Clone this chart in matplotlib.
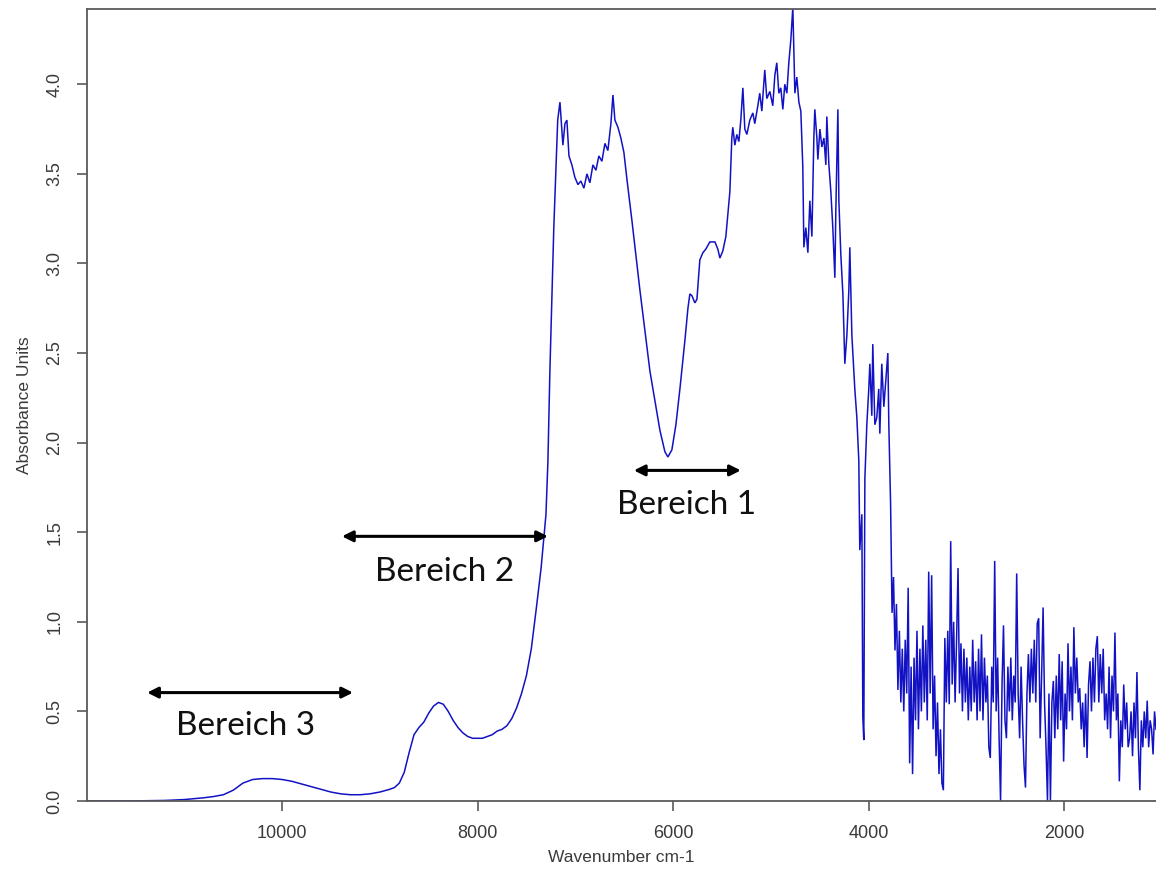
import numpy as np
import matplotlib
matplotlib.use("Agg")
import matplotlib.pyplot as plt

# --- smooth NIR part of the spectrum (wavenumber in cm-1, absorbance) ---
wn_smooth = [12000, 11600, 11200, 11000, 10800, 10700, 10600, 10500, 10400, 10300,
             10200, 10100, 10000, 9900, 9800, 9700, 9600, 9500, 9400, 9300,
             9200, 9100, 9000, 8900, 8850, 8800, 8750, 8700, 8650, 8600,
             8550, 8500, 8450, 8400, 8350, 8300, 8250, 8200, 8150, 8100,
             8050, 8000, 7950, 7900, 7850, 7800, 7750, 7700, 7650, 7600,
             7550, 7500, 7450, 7400, 7350, 7300, 7280, 7260, 7240, 7220,
             7200, 7180]
abs_smooth = [0.0, 0.0, 0.003, 0.008, 0.018, 0.025, 0.035, 0.06, 0.10, 0.12,
              0.125, 0.125, 0.12, 0.11, 0.095, 0.08, 0.065, 0.05, 0.04, 0.035,
              0.035, 0.04, 0.05, 0.065, 0.075, 0.10, 0.16, 0.27, 0.37, 0.41,
              0.44, 0.49, 0.53, 0.55, 0.54, 0.50, 0.45, 0.41, 0.38, 0.36,
              0.35, 0.35, 0.35, 0.36, 0.37, 0.39, 0.40, 0.42, 0.46, 0.52,
              0.60, 0.70, 0.85, 1.07, 1.30, 1.60, 1.90, 2.40, 2.80, 3.20,
              3.50, 3.80]

# --- saturated band region with moderate noise ---
wn_band = [7157, 7127, 7106, 7086, 7065, 7035, 7004, 6973, 6943, 6912,
           6881, 6851, 6820, 6789, 6759, 6728, 6697, 6667, 6636, 6615,
           6595, 6564, 6534, 6503, 6472, 6421, 6339, 6237, 6135, 6084,
           6053, 6012, 5971, 5930, 5879, 5848, 5828, 5807, 5777, 5756,
           5726, 5695, 5665, 5624, 5572, 5542, 5521, 5491, 5460, 5419,
           5399, 5389, 5368, 5348, 5327, 5307, 5286, 5266, 5245, 5215,
           5184, 5164, 5133, 5113, 5092, 5062, 5041, 5010, 4980, 4959,
           4939, 4918, 4898, 4877, 4857, 4836, 4816, 4795, 4775, 4754,
           4734, 4713, 4693, 4673, 4662, 4642, 4621, 4601, 4580, 4560,
           4550, 4529, 4519, 4498, 4478, 4457, 4437, 4427, 4406, 4386,
           4366, 4345, 4335, 4314, 4304, 4284, 4263, 4243, 4222, 4202,
           4192, 4171, 4141, 4120, 4100, 4090, 4069, 4059, 4049, 4038,
           4018, 3998, 3987, 3967, 3957, 3936, 3916, 3896, 3885, 3865,
           3844, 3824, 3803, 3793]
abs_band = [3.90, 3.66, 3.78, 3.80, 3.60, 3.55, 3.48, 3.44, 3.46, 3.42,
            3.50, 3.45, 3.55, 3.52, 3.60, 3.57, 3.67, 3.63, 3.78, 3.94,
            3.80, 3.76, 3.70, 3.62, 3.47, 3.24, 2.85, 2.40, 2.07, 1.95,
            1.92, 1.96, 2.10, 2.30, 2.57, 2.75, 2.83, 2.82, 2.78, 2.80,
            3.02, 3.06, 3.08, 3.12, 3.12, 3.08, 3.03, 3.07, 3.15, 3.40,
            3.70, 3.76, 3.66, 3.72, 3.68, 3.80, 3.98, 3.75, 3.72, 3.80,
            3.84, 3.78, 3.88, 3.95, 3.85, 4.08, 3.92, 3.96, 3.88, 4.05,
            4.12, 3.95, 3.98, 3.86, 4.00, 3.95, 4.12, 4.25, 4.43, 3.95,
            4.04, 3.90, 3.85, 3.54, 3.09, 3.20, 3.06, 3.35, 3.15, 3.70,
            3.86, 3.70, 3.58, 3.75, 3.65, 3.70, 3.55, 3.82, 3.55, 3.40,
            3.20, 2.92, 3.30, 3.86, 3.35, 3.05, 2.83, 2.44, 2.60, 2.85,
            3.09, 2.60, 2.30, 2.14, 1.90, 1.40, 1.60, 0.47, 0.34, 1.80,
            2.10, 2.30, 2.44, 2.15, 2.55, 2.10, 2.14, 2.30, 2.05, 2.44,
            2.20, 2.35, 2.50, 2.10]

# --- noisy mid-IR tail, sampled every 15 cm-1 from 3775 down to 1060 ---
wn_tail = np.arange(3775, 1059, -15)
abs_tail = [1.66, 1.05, 1.25, 0.84, 1.10, 0.62, 0.95, 0.55, 0.85, 0.50,
            0.90, 0.60, 1.19, 0.21, 0.75, 0.15, 0.80, 0.45, 0.95, 0.40,
            0.85, 0.50, 0.98, 0.55, 0.90, 0.45, 1.28, 0.60, 1.26, 0.40,
            0.70, 0.25, 0.55, 0.15, 0.40, 0.10, 0.06, 0.91, 0.55, 0.95,
            0.54, 1.45, 0.65, 1.00, 0.55, 0.90, 1.30, 0.60, 0.88, 0.50,
            0.85, 0.55, 0.80, 0.45, 0.75, 0.50, 0.90, 0.55, 0.78, 0.45,
            0.85, 0.50, 0.93, 0.45, 0.80, 0.55, 0.70, 0.30, 0.24, 0.75,
            0.55, 1.34, 0.50, 0.80, 0.35, 0.00, 0.65, 0.98, 0.45, 0.35,
            0.75, 0.50, 0.80, 0.45, 0.70, 0.55, 1.27, 0.60, 0.35, 0.75,
            0.45, 0.20, 0.075, 0.60, 0.82, 0.55, 0.85, 0.60, 0.90, 0.55,
            0.99, 1.02, 0.35, 0.70, 1.08, 0.55, 0.30, 0.00, 0.60, 0.00,
            0.55, 0.67, 0.35, 0.70, 0.40, 0.82, 0.45, 0.78, 0.22, 0.60,
            0.40, 0.88, 0.50, 0.75, 0.45, 0.97, 0.60, 0.80, 0.55, 0.63,
            0.40, 0.55, 0.30, 0.60, 0.24, 0.65, 0.78, 0.50, 0.80, 0.55,
            0.85, 0.92, 0.55, 0.82, 0.60, 0.85, 0.45, 0.60, 0.40, 0.75,
            0.35, 0.70, 0.50, 0.94, 0.45, 0.60, 0.11, 0.45, 0.30, 0.65,
            0.40, 0.55, 0.30, 0.35, 0.50, 0.25, 0.55, 0.35, 0.72, 0.30,
            0.06, 0.45, 0.30, 0.50, 0.35, 0.56, 0.30, 0.45, 0.40, 0.26,
            0.50, 0.40]

# annotated ranges: (label, start, end, arrow height, label x, label baseline)
regions = [
    ("Bereich 1", 6401, 5307, 1.845, 5859, 1.60),
    ("Bereich 2", 9387, 7280, 1.477, 8333, 1.23),
    ("Bereich 3", 11380, 9274, 0.605, 10368, 0.366),
]

x_ticks = [10000, 8000, 6000, 4000, 2000]
y_ticks = [0.0, 0.5, 1.0, 1.5, 2.0, 2.5, 3.0, 3.5, 4.0]

wn = np.concatenate([wn_smooth, wn_band, wn_tail])
absorb = np.concatenate([abs_smooth, abs_band, abs_tail])

fig = plt.figure(figsize=(11.56, 8.73), dpi=100)
ax = fig.add_axes([87 / 1156, 1 - 801 / 873, 1 - 87 / 1156, (801 - 9) / 873])

ax.plot(wn, absorb, color="#1212c4", lw=1.1, solid_joinstyle="miter")

ax.set_xlim(11995, 1060)
ax.set_ylim(0, 4.42)

axis_grey = "#5a5a5a"
for side in ("left", "bottom", "top"):
    ax.spines[side].set_color(axis_grey)
    ax.spines[side].set_linewidth(1.3)
ax.spines["right"].set_visible(False)

ax.set_xticks(x_ticks)
ax.set_xticklabels([str(t) for t in x_ticks])
ax.set_yticks(y_ticks)
ax.set_yticklabels([f"{t:.1f}" for t in y_ticks], rotation=90, va="center")
ax.tick_params(axis="both", direction="out", length=7, width=1.2,
               color=axis_grey, labelcolor="#3a3a3a", labelsize=13)
ax.tick_params(axis="x", pad=10)
ax.tick_params(axis="y", pad=10)
for lbl in ax.get_xticklabels() + ax.get_yticklabels():
    lbl.set_fontfamily("Liberation Sans")

ax.set_xlabel("Wavenumber cm-1", fontsize=12.5, color="#3a3a3a",
              family="Liberation Sans", labelpad=6)
ax.set_ylabel("Absorbance Units", fontsize=12.5, color="#3a3a3a",
              family="Liberation Sans", labelpad=10)

for label, x0, x1, y_arrow, x_text, y_text in regions:
    ax.annotate("", xy=(x1, y_arrow), xytext=(x0, y_arrow),
                arrowprops=dict(arrowstyle="<|-|>", color="black", lw=2.2,
                                mutation_scale=16, shrinkA=0, shrinkB=0))
    ax.text(x_text, y_text, label, ha="center", va="baseline",
            fontsize=24, family="Lato", color="#111111")

fig.savefig("out.png", dpi=100)
